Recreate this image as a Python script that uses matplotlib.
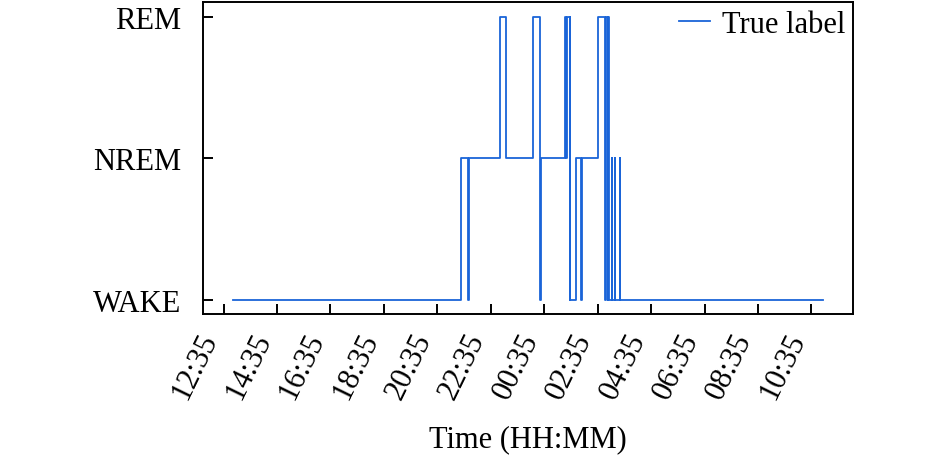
import matplotlib
matplotlib.use("Agg")
import matplotlib.pyplot as plt
import matplotlib.dates as mdates
import pandas as pd

plt.rcParams['font.family'] = ['Liberation Serif', 'DejaVu Serif']

# change points (HH:MM) and stage after each change
change_times = ["12:55", "21:27", "21:44", "21:45", "22:55", "23:09",
                "00:10", "00:25", "00:26", "00:27", "01:21", "01:25", "01:26",
                "01:32", "01:33", "01:34", "01:46", "01:58", "01:59",
                "02:35", "02:52", "02:53", "02:58", "02:59", "03:00",
                "03:07", "03:08", "03:13", "03:14", "03:25", "03:26", "11:02"]
stages = ["WAKE", "NREM", "WAKE", "NREM", "REM", "NREM",
          "REM", "NREM", "WAKE", "NREM", "REM", "NREM", "REM",
          "WAKE", "REM", "WAKE", "NREM", "WAKE", "NREM",
          "REM", "WAKE", "REM", "WAKE", "REM", "WAKE",
          "NREM", "WAKE", "NREM", "WAKE", "NREM", "WAKE", "WAKE"]
stage_names = ["WAKE", "NREM", "REM"]
tick_labels = ["12:35", "14:35", "16:35", "18:35", "20:35", "22:35",
               "00:35", "02:35", "04:35", "06:35", "08:35", "10:35"]

def to_dt(hhmm):
    h, m = map(int, hhmm.split(":"))
    day = "2021-01-01" if h >= 12 else "2021-01-02"
    return pd.Timestamp(f"{day} {hhmm}")

t = [to_dt(s) for s in change_times]
y = [stage_names.index(s) for s in stages]
xt = [to_dt(s) for s in tick_labels]

fig = plt.figure(figsize=(9.45, 4.56), dpi=100)
ax = fig.add_axes([0.2148, 0.309, 0.6878, 0.6837])
ax.step(t, y, where='post', color='#1a64d8', lw=1.3, label='True label')

ax.set_yticks([0, 1, 2])
ax.set_yticklabels(stage_names)
ax.set_xticks(xt)
ax.xaxis.set_major_formatter(mdates.DateFormatter('%H:%M'))
ax.set_xlabel('Time (HH:MM)', fontsize=22, labelpad=15)
ax.tick_params(axis='both', direction='in', length=7, width=1.4, labelsize=22)
ax.tick_params(axis='y', pad=16)
ax.tick_params(axis='x', pad=10)
for lab in ax.get_xticklabels():
    lab.set_rotation(64)
    lab.set_ha('right')
for sp in ax.spines.values():
    sp.set_linewidth(1.4)
ax.legend(loc='upper right', frameon=False, fontsize=22, handlelength=1.0,
          handletextpad=0.4, borderaxespad=0.15, borderpad=0.1)
fig.savefig('out.png', dpi=100)
